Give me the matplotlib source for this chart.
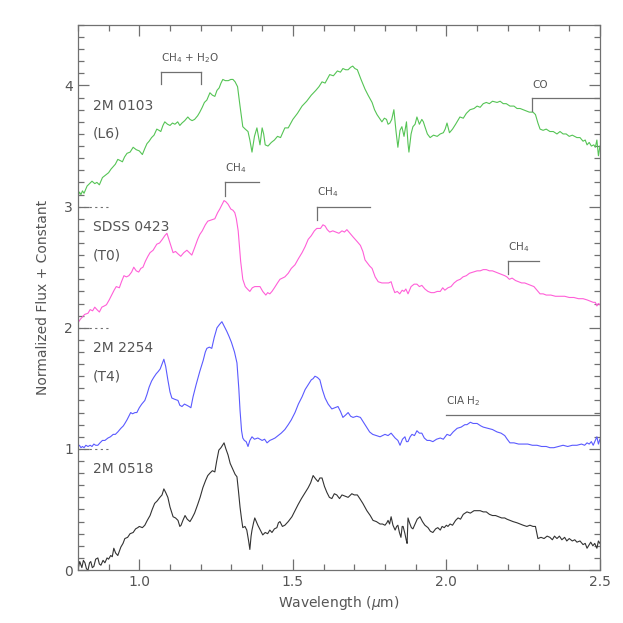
import matplotlib
matplotlib.use('Agg')
import numpy as np
import matplotlib.pyplot as plt
from matplotlib.ticker import MultipleLocator

# ---- spectra: (wavelength um, normalized flux) ----
spec_0103 = [
    (0.800, 0.08), (0.805, 0.12), (0.810, 0.10), (0.815, 0.13), (0.820, 0.11), (0.830, 0.17),
    (0.838, 0.19), (0.846, 0.21), (0.855, 0.19), (0.862, 0.20), (0.870, 0.18), (0.880, 0.24),
    (0.890, 0.26), (0.900, 0.28), (0.908, 0.31), (0.915, 0.33), (0.922, 0.35), (0.930, 0.39),
    (0.938, 0.38), (0.945, 0.37), (0.952, 0.41), (0.960, 0.44), (0.970, 0.45), (0.980, 0.49),
    (0.990, 0.47), (1.000, 0.46), (1.010, 0.43), (1.018, 0.48), (1.025, 0.52), (1.032, 0.54),
    (1.040, 0.57), (1.048, 0.59), (1.057, 0.64), (1.064, 0.63), (1.070, 0.62), (1.077, 0.67),
    (1.083, 0.70), (1.092, 0.68), (1.100, 0.67), (1.108, 0.69), (1.116, 0.68), (1.125, 0.70),
    (1.132, 0.67), (1.139, 0.69), (1.148, 0.71), (1.158, 0.74), (1.165, 0.72), (1.172, 0.71),
    (1.180, 0.72), (1.190, 0.75), (1.197, 0.78), (1.205, 0.82), (1.212, 0.86), (1.220, 0.88),
    (1.230, 0.94), (1.238, 0.92), (1.246, 0.91), (1.253, 0.96), (1.260, 0.98), (1.266, 1.02),
    (1.272, 1.05), (1.280, 1.04), (1.290, 1.04), (1.298, 1.05), (1.305, 1.05), (1.312, 1.03),
    (1.320, 0.99), (1.328, 0.83), (1.337, 0.66), (1.345, 0.64), (1.354, 0.62), (1.360, 0.55),
    (1.367, 0.45), (1.375, 0.58), (1.383, 0.65), (1.388, 0.58), (1.393, 0.51), (1.400, 0.65),
    (1.405, 0.60), (1.410, 0.51), (1.419, 0.50), (1.430, 0.53), (1.440, 0.55), (1.450, 0.58),
    (1.460, 0.57), (1.474, 0.65), (1.485, 0.65), (1.500, 0.72), (1.515, 0.77), (1.530, 0.83),
    (1.545, 0.87), (1.560, 0.92), (1.575, 0.96), (1.585, 0.99), (1.595, 1.03), (1.605, 1.02),
    (1.620, 1.09), (1.632, 1.08), (1.645, 1.12), (1.655, 1.11), (1.663, 1.14), (1.672, 1.13),
    (1.680, 1.13), (1.688, 1.15), (1.695, 1.16), (1.702, 1.14), (1.710, 1.13), (1.722, 1.05),
    (1.735, 0.97), (1.745, 0.92), (1.758, 0.86), (1.766, 0.80), (1.774, 0.76), (1.782, 0.73),
    (1.790, 0.70), (1.798, 0.73), (1.805, 0.72), (1.810, 0.68), (1.816, 0.69), (1.822, 0.72),
    (1.829, 0.80), (1.836, 0.62), (1.842, 0.49), (1.849, 0.63), (1.855, 0.66), (1.862, 0.58),
    (1.870, 0.70), (1.875, 0.52), (1.878, 0.45), (1.885, 0.60), (1.891, 0.66), (1.898, 0.68),
    (1.904, 0.74), (1.912, 0.68), (1.920, 0.72), (1.925, 0.70), (1.930, 0.66), (1.938, 0.60),
    (1.947, 0.57), (1.958, 0.59), (1.970, 0.58), (1.980, 0.60), (1.990, 0.61), (1.996, 0.64),
    (2.002, 0.69), (2.010, 0.61), (2.020, 0.64), (2.030, 0.68), (2.044, 0.74), (2.055, 0.73),
    (2.065, 0.77), (2.077, 0.80), (2.090, 0.81), (2.100, 0.83), (2.110, 0.82), (2.120, 0.85),
    (2.130, 0.86), (2.140, 0.85), (2.150, 0.87), (2.165, 0.86), (2.175, 0.87), (2.185, 0.85),
    (2.195, 0.85), (2.207, 0.83), (2.220, 0.83), (2.230, 0.81), (2.240, 0.81), (2.250, 0.80),
    (2.260, 0.79), (2.270, 0.78), (2.282, 0.78), (2.290, 0.76), (2.298, 0.69), (2.305, 0.64),
    (2.315, 0.63), (2.325, 0.64), (2.337, 0.62), (2.348, 0.62), (2.360, 0.60), (2.370, 0.62),
    (2.380, 0.60), (2.390, 0.60), (2.400, 0.58), (2.410, 0.59), (2.425, 0.57), (2.435, 0.57),
    (2.445, 0.54), (2.452, 0.55), (2.458, 0.51), (2.465, 0.53), (2.472, 0.50), (2.480, 0.51),
    (2.485, 0.49), (2.490, 0.55), (2.495, 0.42), (2.500, 0.50)]

spec_0423 = [
    (0.800, 0.04), (0.808, 0.07), (0.815, 0.09), (0.822, 0.11), (0.833, 0.12), (0.840, 0.15),
    (0.848, 0.14), (0.855, 0.17), (0.862, 0.15), (0.870, 0.13), (0.878, 0.17), (0.886, 0.18),
    (0.893, 0.19), (0.902, 0.23), (0.910, 0.27), (0.918, 0.31), (0.925, 0.34), (0.935, 0.33),
    (0.942, 0.38), (0.950, 0.43), (0.958, 0.42), (0.966, 0.43), (0.975, 0.46), (0.982, 0.50),
    (0.990, 0.47), (0.998, 0.46), (1.005, 0.49), (1.012, 0.50), (1.020, 0.55), (1.028, 0.59),
    (1.035, 0.62), (1.045, 0.64), (1.057, 0.69), (1.066, 0.70), (1.075, 0.73), (1.083, 0.76),
    (1.090, 0.78), (1.100, 0.70), (1.110, 0.62), (1.118, 0.63), (1.126, 0.61), (1.135, 0.59),
    (1.145, 0.62), (1.155, 0.64), (1.163, 0.62), (1.171, 0.60), (1.180, 0.66), (1.190, 0.73),
    (1.197, 0.77), (1.205, 0.80), (1.215, 0.85), (1.223, 0.88), (1.235, 0.89), (1.246, 0.90),
    (1.255, 0.95), (1.262, 0.98), (1.270, 1.02), (1.276, 1.05), (1.282, 1.04), (1.289, 1.02),
    (1.298, 0.98), (1.305, 0.97), (1.311, 0.95), (1.316, 0.90), (1.322, 0.80), (1.330, 0.55),
    (1.337, 0.40), (1.345, 0.34), (1.352, 0.32), (1.360, 0.30), (1.368, 0.33), (1.376, 0.34),
    (1.385, 0.34), (1.393, 0.34), (1.402, 0.30), (1.412, 0.27), (1.418, 0.29), (1.425, 0.28),
    (1.432, 0.30), (1.440, 0.33), (1.450, 0.37), (1.458, 0.40), (1.466, 0.41), (1.474, 0.42),
    (1.485, 0.45), (1.495, 0.49), (1.507, 0.52), (1.518, 0.57), (1.530, 0.62), (1.540, 0.67),
    (1.550, 0.73), (1.560, 0.76), (1.570, 0.80), (1.578, 0.82), (1.590, 0.82), (1.598, 0.85),
    (1.605, 0.84), (1.612, 0.81), (1.620, 0.79), (1.630, 0.80), (1.640, 0.79), (1.650, 0.78),
    (1.660, 0.80), (1.668, 0.79), (1.676, 0.81), (1.686, 0.78), (1.696, 0.75), (1.710, 0.71),
    (1.720, 0.68), (1.728, 0.63), (1.735, 0.56), (1.741, 0.54), (1.750, 0.51), (1.758, 0.49),
    (1.768, 0.42), (1.778, 0.38), (1.790, 0.37), (1.800, 0.37), (1.812, 0.37), (1.820, 0.38),
    (1.826, 0.33), (1.832, 0.29), (1.840, 0.30), (1.848, 0.28), (1.856, 0.31), (1.862, 0.30),
    (1.868, 0.32), (1.875, 0.28), (1.885, 0.34), (1.895, 0.36), (1.904, 0.36), (1.912, 0.34),
    (1.920, 0.35), (1.930, 0.32), (1.940, 0.30), (1.950, 0.29), (1.960, 0.29), (1.970, 0.30),
    (1.980, 0.30), (1.988, 0.33), (1.995, 0.31), (2.005, 0.33), (2.015, 0.34), (2.025, 0.37),
    (2.035, 0.39), (2.045, 0.40), (2.054, 0.42), (2.065, 0.43), (2.075, 0.45), (2.087, 0.46),
    (2.100, 0.47), (2.110, 0.47), (2.120, 0.48), (2.130, 0.48), (2.140, 0.47), (2.150, 0.47),
    (2.160, 0.46), (2.170, 0.45), (2.180, 0.44), (2.190, 0.43), (2.197, 0.42), (2.205, 0.40),
    (2.214, 0.41), (2.225, 0.39), (2.235, 0.38), (2.245, 0.37), (2.255, 0.37), (2.265, 0.36),
    (2.275, 0.35), (2.285, 0.34), (2.295, 0.31), (2.305, 0.28), (2.315, 0.28), (2.325, 0.27),
    (2.340, 0.27), (2.355, 0.26), (2.370, 0.26), (2.385, 0.26), (2.400, 0.25), (2.415, 0.25),
    (2.430, 0.24), (2.445, 0.24), (2.458, 0.23), (2.468, 0.22), (2.478, 0.21), (2.485, 0.21),
    (2.490, 0.18), (2.495, 0.20), (2.500, 0.19)]

spec_2254 = [
    (0.800, 0.02), (0.805, 0.03), (0.810, 0.01), (0.815, 0.02), (0.820, 0.01), (0.826, 0.03),
    (0.833, 0.02), (0.840, 0.03), (0.846, 0.02), (0.852, 0.04), (0.858, 0.03), (0.865, 0.03),
    (0.872, 0.05), (0.880, 0.07), (0.888, 0.07), (0.898, 0.09), (0.906, 0.10), (0.915, 0.12),
    (0.922, 0.12), (0.930, 0.14), (0.940, 0.17), (0.948, 0.19), (0.953, 0.21), (0.960, 0.24),
    (0.966, 0.27), (0.972, 0.30), (0.978, 0.29), (0.986, 0.30), (0.992, 0.30), (1.000, 0.34),
    (1.008, 0.37), (1.018, 0.40), (1.025, 0.45), (1.032, 0.51), (1.040, 0.56), (1.047, 0.59),
    (1.055, 0.62), (1.062, 0.64), (1.068, 0.66), (1.074, 0.70), (1.080, 0.74), (1.086, 0.68),
    (1.093, 0.57), (1.100, 0.47), (1.106, 0.42), (1.115, 0.41), (1.126, 0.40), (1.132, 0.36),
    (1.139, 0.35), (1.147, 0.37), (1.155, 0.36), (1.162, 0.35), (1.168, 0.34), (1.175, 0.43),
    (1.185, 0.53), (1.197, 0.64), (1.208, 0.73), (1.215, 0.80), (1.220, 0.83), (1.228, 0.84),
    (1.236, 0.83), (1.244, 0.92), (1.253, 1.00), (1.262, 1.03), (1.269, 1.05), (1.277, 1.01),
    (1.285, 0.97), (1.292, 0.93), (1.300, 0.88), (1.310, 0.80), (1.318, 0.71), (1.324, 0.50),
    (1.328, 0.32), (1.333, 0.15), (1.337, 0.09), (1.342, 0.07), (1.348, 0.06), (1.354, 0.02),
    (1.360, 0.07), (1.367, 0.10), (1.375, 0.08), (1.386, 0.09), (1.393, 0.08), (1.400, 0.07),
    (1.408, 0.08), (1.416, 0.05), (1.425, 0.07), (1.434, 0.08), (1.442, 0.09), (1.452, 0.11),
    (1.462, 0.13), (1.474, 0.16), (1.485, 0.20), (1.495, 0.24), (1.507, 0.30), (1.518, 0.37),
    (1.530, 0.43), (1.540, 0.49), (1.550, 0.53), (1.560, 0.57), (1.566, 0.58), (1.572, 0.60),
    (1.580, 0.59), (1.588, 0.57), (1.596, 0.49), (1.605, 0.42), (1.615, 0.37), (1.627, 0.33),
    (1.637, 0.34), (1.647, 0.35), (1.655, 0.31), (1.663, 0.26), (1.672, 0.28), (1.680, 0.30),
    (1.688, 0.27), (1.696, 0.26), (1.708, 0.27), (1.720, 0.26), (1.735, 0.20), (1.750, 0.14),
    (1.760, 0.12), (1.772, 0.11), (1.784, 0.10), (1.792, 0.11), (1.800, 0.12), (1.810, 0.11),
    (1.820, 0.13), (1.833, 0.09), (1.842, 0.07), (1.849, 0.03), (1.857, 0.08), (1.865, 0.10),
    (1.870, 0.06), (1.875, 0.06), (1.882, 0.10), (1.888, 0.12), (1.896, 0.11), (1.904, 0.15),
    (1.912, 0.13), (1.920, 0.13), (1.928, 0.09), (1.937, 0.07), (1.946, 0.07), (1.956, 0.06),
    (1.968, 0.08), (1.980, 0.09), (1.990, 0.08), (2.002, 0.12), (2.012, 0.11), (2.022, 0.14),
    (2.035, 0.17), (2.048, 0.18), (2.060, 0.20), (2.067, 0.20), (2.078, 0.22), (2.087, 0.21),
    (2.100, 0.21), (2.112, 0.19), (2.120, 0.18), (2.135, 0.17), (2.150, 0.16), (2.165, 0.14),
    (2.178, 0.13), (2.190, 0.11), (2.198, 0.08), (2.207, 0.05), (2.220, 0.05), (2.235, 0.04),
    (2.250, 0.04), (2.265, 0.04), (2.280, 0.03), (2.295, 0.03), (2.310, 0.02), (2.325, 0.02),
    (2.337, 0.01), (2.350, 0.01), (2.365, 0.02), (2.380, 0.03), (2.395, 0.02), (2.410, 0.03),
    (2.425, 0.03), (2.440, 0.04), (2.450, 0.03), (2.458, 0.05), (2.465, 0.04), (2.472, 0.06),
    (2.478, 0.03), (2.485, 0.07), (2.490, 0.10), (2.495, 0.04), (2.500, 0.08)]

spec_0518 = [
    (0.800, 0.00), (0.806, 0.07), (0.813, 0.02), (0.818, 0.08), (0.823, 0.06), (0.828, 0.01),
    (0.833, 0.00), (0.838, 0.06), (0.842, 0.07), (0.847, 0.02), (0.852, 0.03), (0.858, 0.09),
    (0.865, 0.10), (0.870, 0.05), (0.875, 0.04), (0.882, 0.08), (0.888, 0.06), (0.895, 0.10),
    (0.900, 0.09), (0.907, 0.12), (0.912, 0.11), (0.917, 0.18), (0.923, 0.14), (0.930, 0.12),
    (0.940, 0.19), (0.947, 0.22), (0.953, 0.26), (0.962, 0.27), (0.970, 0.30), (0.980, 0.31),
    (0.988, 0.34), (0.995, 0.35), (1.000, 0.36), (1.010, 0.35), (1.018, 0.37), (1.026, 0.41),
    (1.035, 0.45), (1.042, 0.50), (1.050, 0.55), (1.058, 0.57), (1.067, 0.60), (1.074, 0.62),
    (1.080, 0.67), (1.086, 0.64), (1.093, 0.60), (1.100, 0.52), (1.110, 0.44), (1.118, 0.43),
    (1.126, 0.41), (1.132, 0.36), (1.136, 0.37), (1.142, 0.41), (1.149, 0.45), (1.156, 0.42),
    (1.165, 0.40), (1.172, 0.43), (1.180, 0.47), (1.190, 0.54), (1.198, 0.60), (1.207, 0.68),
    (1.216, 0.74), (1.223, 0.78), (1.230, 0.80), (1.238, 0.82), (1.246, 0.81), (1.252, 0.90),
    (1.259, 0.99), (1.266, 1.01), (1.276, 1.05), (1.282, 1.00), (1.289, 0.95), (1.296, 0.88),
    (1.305, 0.83), (1.312, 0.79), (1.318, 0.77), (1.323, 0.65), (1.328, 0.52), (1.333, 0.42),
    (1.337, 0.35), (1.344, 0.36), (1.350, 0.33), (1.356, 0.24), (1.360, 0.17), (1.364, 0.28),
    (1.367, 0.33), (1.372, 0.39), (1.376, 0.43), (1.381, 0.40), (1.386, 0.37), (1.394, 0.33),
    (1.402, 0.29), (1.410, 0.31), (1.418, 0.30), (1.425, 0.33), (1.432, 0.31), (1.440, 0.34),
    (1.448, 0.35), (1.453, 0.39), (1.458, 0.40), (1.466, 0.36), (1.474, 0.37), (1.485, 0.40),
    (1.497, 0.44), (1.507, 0.49), (1.517, 0.54), (1.528, 0.59), (1.540, 0.64), (1.550, 0.68),
    (1.558, 0.72), (1.566, 0.78), (1.575, 0.75), (1.582, 0.73), (1.588, 0.76), (1.595, 0.76),
    (1.603, 0.69), (1.611, 0.64), (1.619, 0.60), (1.627, 0.59), (1.635, 0.63), (1.643, 0.62),
    (1.652, 0.59), (1.660, 0.62), (1.670, 0.61), (1.680, 0.60), (1.692, 0.63), (1.700, 0.62),
    (1.710, 0.62), (1.718, 0.59), (1.728, 0.55), (1.741, 0.49), (1.752, 0.45), (1.761, 0.41),
    (1.772, 0.40), (1.784, 0.38), (1.792, 0.38), (1.800, 0.37), (1.806, 0.39), (1.810, 0.41),
    (1.815, 0.38), (1.820, 0.44), (1.826, 0.37), (1.833, 0.33), (1.838, 0.36), (1.842, 0.37),
    (1.847, 0.31), (1.852, 0.27), (1.856, 0.36), (1.859, 0.36), (1.865, 0.30), (1.869, 0.25),
    (1.872, 0.22), (1.875, 0.43), (1.880, 0.39), (1.886, 0.35), (1.891, 0.34), (1.898, 0.38),
    (1.905, 0.42), (1.914, 0.44), (1.922, 0.40), (1.930, 0.37), (1.940, 0.35), (1.948, 0.32),
    (1.956, 0.31), (1.965, 0.34), (1.972, 0.35), (1.980, 0.33), (1.986, 0.36), (1.993, 0.35),
    (2.000, 0.37), (2.005, 0.36), (2.012, 0.38), (2.020, 0.37), (2.030, 0.41), (2.038, 0.43),
    (2.046, 0.42), (2.055, 0.46), (2.067, 0.48), (2.078, 0.47), (2.090, 0.49), (2.100, 0.49),
    (2.110, 0.49), (2.120, 0.48), (2.130, 0.48), (2.140, 0.46), (2.150, 0.45), (2.160, 0.45),
    (2.170, 0.44), (2.180, 0.43), (2.190, 0.43), (2.197, 0.42), (2.207, 0.41), (2.217, 0.40),
    (2.230, 0.39), (2.240, 0.38), (2.250, 0.37), (2.262, 0.36), (2.272, 0.37), (2.282, 0.36),
    (2.290, 0.36), (2.298, 0.26), (2.308, 0.27), (2.318, 0.26), (2.328, 0.28), (2.337, 0.27),
    (2.345, 0.25), (2.352, 0.28), (2.360, 0.26), (2.368, 0.28), (2.376, 0.25), (2.385, 0.27),
    (2.392, 0.24), (2.400, 0.26), (2.410, 0.24), (2.418, 0.25), (2.425, 0.23), (2.435, 0.24),
    (2.445, 0.21), (2.452, 0.22), (2.458, 0.18), (2.465, 0.21), (2.470, 0.23), (2.477, 0.20),
    (2.483, 0.22), (2.490, 0.18), (2.495, 0.24), (2.500, 0.22)]

names = ['2M 0103', 'SDSS 0423', '2M 2254', '2M 0518']
types = ['(L6)', '(T0)', '(T4)', '']
offsets = [3, 2, 1, 0]
colors = ['#55c455', '#ff5fd8', '#5a5aff', '#333333']

grey = '#707070'
txt = '#555555'

fig = plt.figure(figsize=(6.23, 6.23), dpi=100)
ax = fig.add_axes([0.125, 0.085, 0.838, 0.875])

spectra = [spec_0103, spec_0423, spec_2254, spec_0518]
for sp, off, c in zip(spectra, offsets, colors):
    w, f = np.array(sp).T
    ax.plot(w, f + off, color=c, lw=0.8)

# zero levels of the shifted spectra
for off in offsets[:-1]:
    ax.plot([0.8, 0.9], [off, off], color=grey, lw=0.8, ls=(0, (2, 3)))

# object labels
for name, st, off in zip(names, types, offsets):
    ax.text(0.85, off + 0.83, name, color=txt, fontsize=10, va='center')
    if st:
        ax.text(0.85, off + 0.60, st, color=txt, fontsize=10, va='center')

# absorption band markers
def band(x0, x1, y, label, drop=0.1, left=True, right=True):
    ax.plot([x0, x1], [y, y], color=grey, lw=0.9)
    if left:
        ax.plot([x0, x0], [y, y - drop], color=grey, lw=0.9)
    if right:
        ax.plot([x1, x1], [y, y - drop], color=grey, lw=0.9)
    ax.text(x0, y + 0.06, label, color=txt, fontsize=7.5, va='bottom')

band(1.07, 1.20, 4.11, r'CH$_4$ + H$_2$O')
band(1.28, 1.39, 3.20, r'CH$_4$', drop=0.11, right=False)
band(1.58, 1.75, 3.00, r'CH$_4$', drop=0.11, right=False)
band(2.20, 2.30, 2.55, r'CH$_4$', drop=0.11, right=False)
band(2.28, 2.50, 3.90, 'CO', drop=0.11, right=False)
band(2.00, 2.50, 1.28, r'CIA H$_2$', left=False, right=False)

ax.set_xlim(0.8, 2.5)
ax.set_ylim(0, 4.5)
ax.xaxis.set_major_locator(MultipleLocator(0.5))
ax.xaxis.set_minor_locator(MultipleLocator(0.1))
ax.yaxis.set_major_locator(MultipleLocator(1))
ax.yaxis.set_minor_locator(MultipleLocator(0.1))
ax.set_yticks([0, 1, 2, 3, 4])
ax.set_yticklabels(['0', '1', '2', '3', '4'])
ax.tick_params(which='both', direction='in', top=True, right=True, colors=grey,
               labelcolor=txt, labelsize=10, width=0.9)
ax.tick_params(which='major', length=8)
ax.tick_params(which='minor', length=4.5)
for s in ax.spines.values():
    s.set_color(grey)
    s.set_linewidth(0.9)

ax.set_xlabel(r'Wavelength ($\mu$m)', color=txt, fontsize=10, labelpad=4)
ax.set_ylabel('Normalized Flux + Constant', color=txt, fontsize=10, labelpad=10)

fig.savefig('out.png', dpi=100)
